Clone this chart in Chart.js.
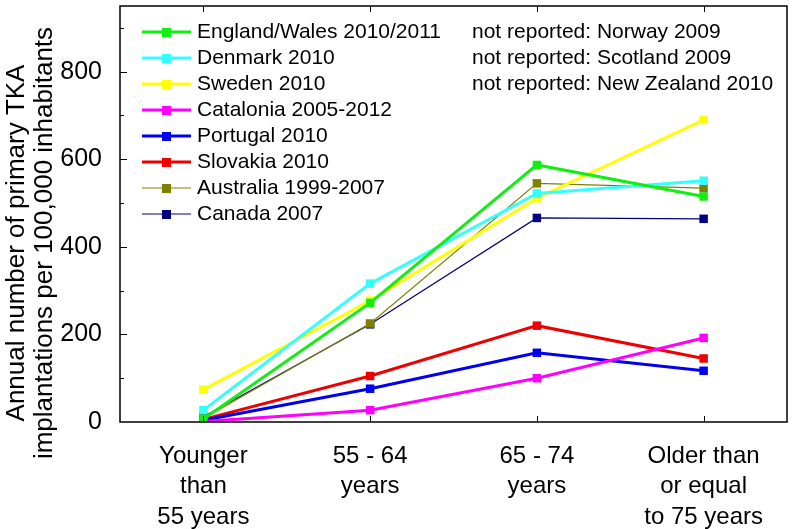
<!DOCTYPE html>
<html>
<head>
<meta charset="utf-8">
<script src="https://cdn.jsdelivr.net/npm/chart.js@4.4.1/dist/chart.umd.min.js"></script>
<style>
  body { margin: 0; background: #fff; }
  canvas { display: block; }
</style>
</head>
<body>
<canvas id="tka_chart" width="793" height="529"></canvas>
<script>
// Data

const categories = [
    ['Younger', 'than', '55 years'],
    ['55 - 64', 'years'],
    ['65 - 74', 'years'],
    ['Older than', 'or equal', 'to 75 years']
];

const england = [7, 272, 587, 515];
const denmark = [27, 316, 522, 551];
const sweden = [74, 277, 511, 690];
const catalonia = [1, 27, 100, 192];
const portugal = [4, 76, 158, 117];
const slovakia = [6, 105, 220, 145];
const australia = [8, 225, 545, 534];
const canada = [12, 223, 466, 464];

const notReported = [
    'not reported: Norway 2009',
    'not reported: Scotland 2009',
    'not reported: New Zealand 2010'
];

const yTitle = ['Annual number of primary TKA', 'implantations per 100,000 inhabitants'];

// Helpers

const FONT = "'Liberation Sans', Arial, sans-serif";

function series(label, data, color, width) {
    return {
        label: label,
        data: data,
        borderColor: color,
        backgroundColor: color,
        borderWidth: width,
        pointStyle: 'rect',
        pointRadius: 6,
        pointHoverRadius: 6,
        pointBorderWidth: 0,
        tension: 0
    };
}

// Plugins

const frame_plugin = {
    id: 'frame',
    afterDraw(chart) {
        const ctx = chart.ctx;
        const a = chart.chartArea;
        const y = chart.scales.y;
        const x = chart.scales.x;
        ctx.save();
        ctx.strokeStyle = '#000';
        ctx.lineWidth = 1.5;
        ctx.strokeRect(a.left, a.top, a.right - a.left, a.bottom - a.top);
        ctx.lineWidth = 1;
        for (let v = 100; v <= 900; v += 100) {
            const py = Math.round(y.getPixelForValue(v)) + 0.5;
            const len = v % 200 === 0 ? 7 : 4;
            ctx.beginPath();
            ctx.moveTo(a.left, py);
            ctx.lineTo(a.left + len, py);
            ctx.stroke();
        }
        for (let i = 0; i < categories.length; i++) {
            const px = Math.round(x.getPixelForValue(i)) + 0.5;
            ctx.beginPath();
            ctx.moveTo(px, a.bottom);
            ctx.lineTo(px, a.bottom - 6);
            ctx.moveTo(px, a.top);
            ctx.lineTo(px, a.top + 6);
            ctx.stroke();
        }
        // y axis title, two rotated lines
        ctx.fillStyle = '#000';
        ctx.font = '26px ' + FONT;
        ctx.textAlign = 'center';
        ctx.textBaseline = 'middle';
        [17, 45].forEach((tx, i) => {
            ctx.save();
            ctx.translate(tx, 243);
            ctx.rotate(-Math.PI / 2);
            ctx.fillText(yTitle[i], 0, 0);
            ctx.restore();
        });
        ctx.restore();
    }
};

const legend_plugin = {
    id: 'boxLegend',
    afterDraw(chart) {
        const ctx = chart.ctx;
        ctx.save();
        ctx.font = '21px ' + FONT;
        ctx.textBaseline = 'middle';
        ctx.fillStyle = '#000';
        chart.data.datasets.forEach((ds, i) => {
            const cy = 32 + i * 26;
            ctx.strokeStyle = ds.borderColor;
            ctx.lineWidth = ds.borderWidth;
            ctx.beginPath();
            ctx.moveTo(142, cy);
            ctx.lineTo(191, cy);
            ctx.stroke();
            ctx.fillStyle = ds.backgroundColor;
            ctx.fillRect(162, cy - 4, 9, 9);
            ctx.fillStyle = '#000';
            ctx.fillText(ds.label, 197, cy);
        });
        notReported.forEach((t, i) => {
            ctx.fillText(t, 472, 32 + i * 26);
        });
        ctx.restore();
    }
};

// Chart

const tka_chart_canvas = document.getElementById('tka_chart');

const tka_chart = new Chart(tka_chart_canvas, {
    type: 'line',
    data: {
        labels: categories,
        datasets: [
            series('England/Wales 2010/2011', england, '#11ee11', 3),
            series('Denmark 2010', denmark, '#33ffff', 3),
            series('Sweden 2010', sweden, '#ffff00', 3),
            series('Catalonia 2005-2012', catalonia, '#ff00ff', 3),
            series('Portugal 2010', portugal, '#0000ee', 3),
            series('Slovakia 2010', slovakia, '#ee0000', 3),
            series('Australia 1999-2007', australia, '#808000', 1.2),
            series('Canada 2007', canada, '#000080', 1.2)
        ]
    },
    options: {
        responsive: false,
        animation: false,
        devicePixelRatio: 1,
        layout: { padding: { top: 1, right: 1, left: 0, bottom: 0 } },
        plugins: {
            legend: { display: false },
            tooltip: { enabled: false }
        },
        scales: {
            x: {
                type: 'category',
                offset: true,
                grid: { display: false },
                border: { display: false },
                ticks: {
                    color: '#000',
                    font: { family: FONT, size: 24, lineHeight: 1.27 },
                    padding: 11,
                    maxRotation: 0,
                    autoSkip: false
                },
                afterFit(scale) {
                    scale.height = 107;
                    scale.paddingLeft = 0;
                    scale.paddingRight = 0;
                }
            },
            y: {
                min: 0,
                max: 950,
                grid: { display: false },
                border: { display: false },
                ticks: {
                    stepSize: 200,
                    color: '#000',
                    font: { family: FONT, size: 25 },
                    padding: 10,
                    callback: (v) => (v % 200 === 0 ? v : '')
                },
                afterFit(scale) {
                    scale.width = 120;
                    scale.paddingTop = 0;
                    scale.paddingBottom = 0;
                }
            }
        }
    },
    plugins: [frame_plugin, legend_plugin]
});
</script>
</body>
</html>
